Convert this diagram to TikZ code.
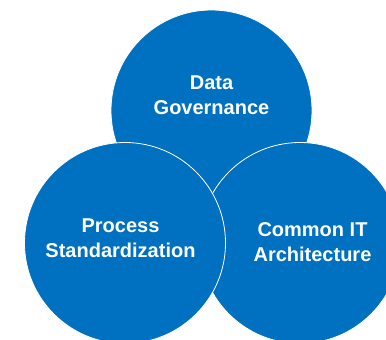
\documentclass[tikz,border=0pt]{standalone}
\usepackage{fontspec}
\setmainfont{Liberation Sans}
\definecolor{ppblue}{RGB}{0,112,192}
\begin{document}
\begin{tikzpicture}[x=1bp,y=-1bp,
  bubble/.style={circle,fill=ppblue,draw=white,line width=0.8bp,minimum size=201bp,inner sep=0pt,outer sep=0pt},
  caption/.style={text=white,font=\bfseries\fontsize{20bp}{24.5bp}\selectfont,align=center,inner sep=0pt}]
\useasboundingbox (0,0) rectangle (386,340);
\begin{scope}
\clip (0,0) rectangle (386,340);
\node[bubble] (top) at (211.5,110.5) {};
\node[bubble] (right) at (300,243) {};
\node[bubble] (left) at (125,243) {};
\end{scope}
\node[caption] (ttop) at (211.5,95) {Data\\Governance};
\node[caption] (tleft) at (120.5,238) {Process\\Standardization};
\node[caption] (tright) at (312.5,242) {Common IT\\Architecture};
\end{tikzpicture}
\end{document}
